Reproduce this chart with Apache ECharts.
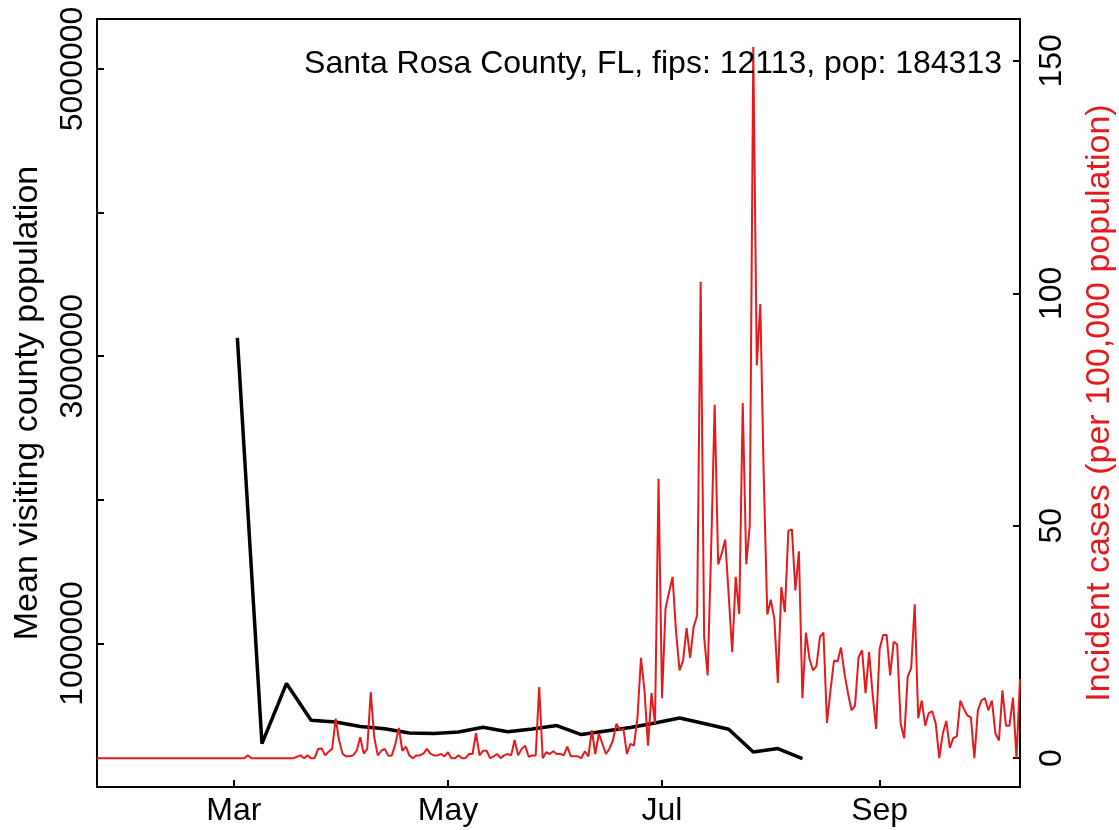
<!DOCTYPE html>
<html><head><meta charset="utf-8">
<script src="https://cdn.jsdelivr.net/npm/echarts@6/dist/echarts.min.js"></script>
<style>html,body{margin:0;padding:0;background:#fff}#c{width:1119px;height:830px}</style>
</head><body><div id="c"></div>
<script>
// Daily incident cases per 100,000 population, starting 2020-01-22
const caseStart = '2020-01-22';
const caseValues = [
  0,0,0,0,0,0,0,0,0,0, 0,0,0,0,0,0,0,0,0,0, 0,0,0,0,0,0,0,0,0,0, 0,0,0,0,0,0,0,0,0,
  0,0,0,0,0.6,0,0,0,0,0, 0,0,0,0,0,0,0,
  0,0.3,0.6,0,0.6,0,0,2.0,2.1,0.6, 1.4,2.0,8.5,3.8,0.9,0.4,0.4,0.6,1.6,4.5,
  1.0,2.0,14.2,4.5,0.6,1.6,2.0,0.5,0.6,3.0, 6.5,1.6,2.5,0.6,0,0.6,0.6,1.0,2.0,1.0,
  0.6,0.6,0.9,0.4,1.3,0,0,0.6,0,0, 0.9,0.9,5.4,0.6,1.6,1.6,0,0.4,0.9,0,
  0.6,0.9,0.6,3.9,0.6,2.0,2.7,0.3,0.6,0.6, 15.3,0,1.3,0.9,1.5,0.9,0.9,0.6,2.5,0.4,
  0.4,0.4,0,1.5,0.4,6.0,0.9,5.3,3.1,0.9, 2.0,3.8,7.4,6.0,6.3,0.9,3.1,2.7,8.7,21.6,
  14.6,2.7,14.0,7.4,60.1,12.9,32.2,35.7,39.0,27.1, 18.9,21.0,28.0,21.6,28.2,30.7,102.5,26.1,17.8,45,
  76,41.7,44,47,35,22.8,39,31,76.4,41.7, 50,153,84.5,97.7,60,30.9,34.1,30.0,16.2,36.8,
  31.4,48.9,49.2,36.1,44.5,12.9,27.0,21.4,18.9,19.8, 26.1,27.0,7.6,14.6,21.0,20.8,23.8,18.2,13.9,10.3,
  11.3,21.7,23.2,14.0,22.8,13.9,6.3,23.5,26.5,26.5, 17.8,25.0,24.5,7.4,4.3,17.5,19.4,33.1,8.6,12.4,
  7.0,9.7,10.1,7.4,0,5.3,8.0,2.2,4.3,4.7, 12.4,10.6,9.2,8.8,0,10.3,12.4,12.9,10.3,12.4,
  5.3,3.8,14.6,7.0,7.0,13.0,0,17
];
// Weekly mean visiting county population
const visitDates = ['2020-03-02','2020-03-09','2020-03-16','2020-03-23','2020-03-30','2020-04-06',
  '2020-04-13','2020-04-20','2020-04-27','2020-05-04','2020-05-11','2020-05-18','2020-05-25',
  '2020-06-01','2020-06-08','2020-06-15','2020-06-22','2020-06-29','2020-07-06','2020-07-13',
  '2020-07-20','2020-07-27','2020-08-03','2020-08-10'];
const visitValues = [3127000,302000,721000,465000,453000,421000,406000,376000,372000,383000,
  416000,385000,404000,428000,365000,390000,414000,446000,481000,442000,402000,244000,268000,198000];
const leftTicks = [1000000,2000000,3000000,4000000,5000000];
const leftLabels = [1000000,3000000,5000000];
const rightTicks = [0,50,100,150];
const monthTicks = ['2020-03-01','2020-05-01','2020-07-01','2020-09-01'];
const monthLabels = ['Mar','May','Jul','Sep'];
const titleText = 'Santa Rosa County, FL, fips: 12113, pop: 184313';

const DAY = 86400000;
const t0 = Date.parse(caseStart);
const caseData = caseValues.map((v, i) => [t0 + i * DAY, v]);
const visitData = visitDates.map((d, i) => [Date.parse(d), visitValues[i]]);
const monthTs = monthTicks.map(d => Date.parse(d));
const FONT = 'Liberation Sans, Arial, sans-serif';
const FS = 32;
const NAME_FS = 34;
const RED = '#E41A1C';

const chart = echarts.init(document.getElementById('c'));
chart.setOption({
  animation: false,
  backgroundColor: '#fff',
  title: {text: titleText, right: 112, top: 43,
    textStyle: {fontSize: FS, fontWeight: 'normal', color: '#000', fontFamily: FONT}},
  grid: {left: 97, right: 99, top: 19, bottom: 43, show: true, borderColor: '#000', borderWidth: 2,
    backgroundColor: 'transparent', containLabel: false, outerBoundsMode: 'none'},
  xAxis: {
    type: 'value', min: Date.parse('2020-01-22'), max: Date.parse('2020-10-11'),
    axisLine: {show: true, lineStyle: {color: '#000', width: 2}},
    axisTick: {show: true, inside: true, length: 7, lineStyle: {color: '#000', width: 2}, customValues: monthTs},
    axisLabel: {customValues: monthTs, margin: 8, fontSize: FS, color: '#000', fontFamily: FONT,
      formatter: v => { const i = monthTs.indexOf(v); return i >= 0 ? monthLabels[i] : ''; }},
    splitLine: {show: false}
  },
  yAxis: [{
    type: 'value', min: 0, max: 5348000, position: 'left',
    axisLine: {show: true, lineStyle: {color: '#000', width: 2}},
    axisTick: {show: true, inside: true, length: 7, lineStyle: {color: '#000', width: 2}, customValues: leftTicks},
    axisLabel: {customValues: leftLabels, rotate: 90, margin: 8, fontSize: FS, color: '#000', fontFamily: FONT,
      formatter: v => String(v)},
    splitLine: {show: false},
    name: 'Mean visiting county population', nameLocation: 'middle', nameGap: 52, nameRotate: 90,
    nameTextStyle: {fontSize: NAME_FS, color: '#000', fontFamily: FONT}
  }, {
    type: 'value', min: -6.2, max: 159, position: 'right',
    axisLine: {show: true, lineStyle: {color: '#000', width: 2}},
    axisTick: {show: true, inside: true, length: 7, lineStyle: {color: '#000', width: 2}, customValues: rightTicks},
    axisLabel: {customValues: rightTicks, rotate: 90, margin: 16, fontSize: FS, color: '#000', fontFamily: FONT,
      formatter: v => String(v)},
    splitLine: {show: false},
    name: 'Incident cases (per 100,000 population)', nameLocation: 'middle', nameGap: 63, nameRotate: 90,
    nameTextStyle: {fontSize: NAME_FS, color: RED, fontFamily: FONT}
  }],
  series: [{
    type: 'line', yAxisIndex: 0, data: visitData, symbol: 'none', silent: true,
    lineStyle: {color: '#000', width: 3.5}, z: 2
  }, {
    type: 'line', yAxisIndex: 1, data: caseData, symbol: 'none', silent: true,
    lineStyle: {color: RED, width: 2}, z: 3
  }]
});
</script></body></html>
